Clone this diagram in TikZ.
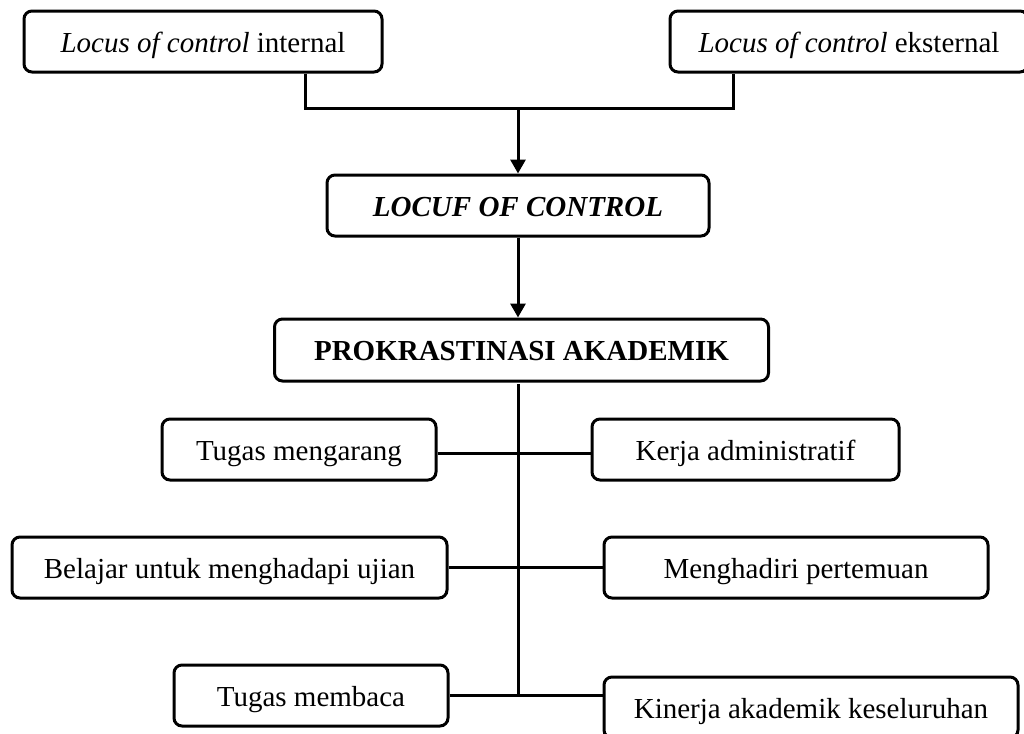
\documentclass[tikz,border=0pt]{standalone}
\usepackage{fontspec}
\setmainfont{Liberation Serif}
\usepackage{tikz}
\usetikzlibrary{arrows.meta}

\begin{document}
\begin{tikzpicture}[x=0.5pt,y=-0.5pt,
    box/.style={draw,line width=1.5pt,rounded corners=4pt,inner sep=0pt,
      minimum height=30.5pt,text height=13pt,text depth=2.5pt,
      font=\fontsize{14.5}{17}\selectfont},
    link/.style={line width=1.5pt},
    arr/.style={line width=1.5pt,-{Triangle[length=7pt,width=7.5pt]}}]
      \useasboundingbox (0,0) rectangle (1024,734);
      \node[box,minimum width=179pt]   (203 41)  at (203,41.5)   {\textit{Locus of control} internal};
      \node[box,minimum width=179pt]   (849 41)  at (849,41.5)   {\textit{Locus of control} eksternal};
      \node[box,minimum width=191pt]   (518 205) at (518,205.5)  {\textbf{\textit{LOCUF OF CONTROL}}};
      \node[box,minimum width=247pt,minimum height=31pt]
                                       (522 350) at (521.5,350)  {\textbf{PROKRASTINASI AKADEMIK}};
      \node[box,minimum width=137pt]   (299 449) at (299,449.5)  {Tugas mengarang};
      \node[box,minimum width=153.5pt] (746 449) at (745.5,449.5) {Kerja administratif};
      \node[box,minimum width=217.5pt] (229 567) at (229.5,567.5) {Belajar untuk menghadapi ujian};
      \node[box,minimum width=192pt]   (796 567) at (796,567.5)  {Menghadiri pertemuan};
      \node[box,minimum width=137pt]   (311 695) at (311,695.5)  {Tugas membaca};
      \node[box,minimum width=207pt]   (811 707) at (811,707.5)  {Kinerja akademik keseluruhan};
      \coordinate (518 108) at (518,108);
      \coordinate (518 384) at (518,384);
      \coordinate (518 695) at (518,695.5);
      \draw [link] ([xshift=51pt]203 41.south) |- (518 108) -| ([xshift=-58pt]849 41.south);
      \draw [arr]  (518 108) -- (518 205);
      \draw [arr]  (518 205.south) -- (518 205.south|-522 350.north);
      \draw [link] (518 384) -- (518 695);
      \draw [link] ([yshift=-2pt]299 449.east) -- ([yshift=-2pt]746 449.west);
      \draw [link] (229 567.east) -- (796 567.west);
      \draw [link] (311 695.east) -- (311 695.east-|811 707.west);
    \end{tikzpicture}
\end{document}
